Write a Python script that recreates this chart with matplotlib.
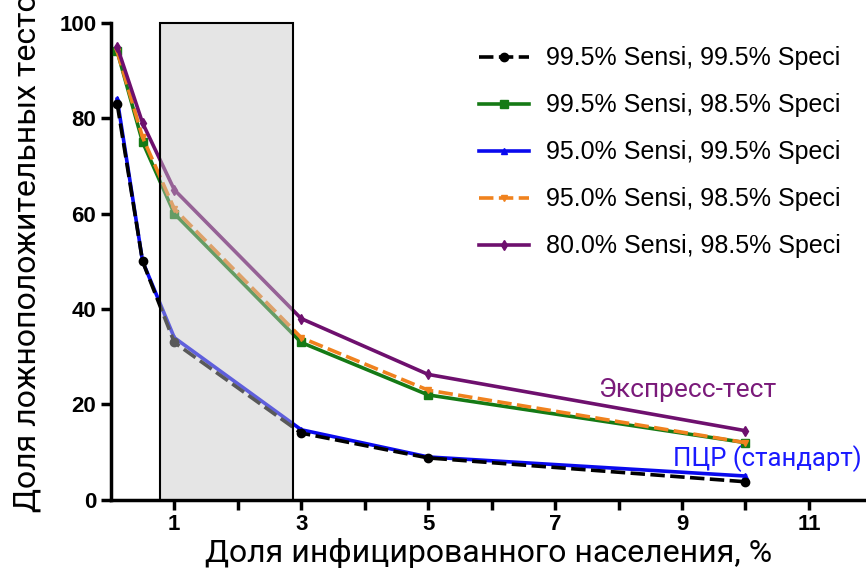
import matplotlib.pyplot as plt
from matplotlib.patches import Rectangle

# prevalence, %
x = [0.1, 0.5, 1, 3, 5, 10]

s995_p995 = [83, 50, 33, 14, 8.8, 3.8]
s995_p985 = [94, 75, 60, 33, 22, 12]
s950_p995 = [84, 50, 34, 14.7, 9, 5]
s950_p985 = [94, 76, 61, 34, 23, 12]
s800_p985 = [95, 79, 65, 38, 26.3, 14.5]

labels = ['99.5% Sensi, 99.5% Speci',
          '99.5% Sensi, 98.5% Speci',
          '95.0% Sensi, 99.5% Speci',
          '95.0% Sensi, 98.5% Speci',
          '80.0% Sensi, 98.5% Speci']

x_ticks = [1, 3, 5, 7, 9, 11]
y_ticks = [0, 20, 40, 60, 80, 100]

band = (0.78, 2.87)  # shaded range of x

fig = plt.figure(figsize=(8.66, 5.7), dpi=100)
ax = fig.add_axes([0.128, 0.123, 0.872, 0.837])

lw = 2.6
l_blue, = ax.plot(x, s950_p995, color='#0a0aee', lw=lw, marker='^', ms=5, zorder=3)
l_black, = ax.plot(x, s995_p995, color='black', lw=lw, ls=(0, (4, 1.5)), marker='o', ms=6, zorder=4)
l_green, = ax.plot(x, s995_p985, color='#157a15', lw=lw, marker='s', ms=6, zorder=3)
l_orange, = ax.plot(x, s950_p985, color='#f0821e', lw=lw, ls=(0, (4, 1.5)), marker='v', ms=5, zorder=4)
l_purple, = ax.plot(x, s800_p985, color='#6e106e', lw=lw, marker='d', ms=5, zorder=5)

ax.add_patch(Rectangle((band[0], 0), band[1] - band[0], 100,
                       facecolor=(0.78, 0.78, 0.78, 0.45), edgecolor='black',
                       lw=1.5, zorder=6, clip_on=False))

ax.set_xlim(0, 11.9)
ax.set_ylim(0, 100)
ax.set_xticks(x_ticks)
ax.set_xticks([2, 4, 6, 8, 10], minor=True)
ax.set_yticks(y_ticks)
for sp in ['top', 'right']:
    ax.spines[sp].set_visible(False)
for sp in ['left', 'bottom']:
    ax.spines[sp].set_linewidth(2.5)
ax.tick_params(which='both', width=2.5, length=7, direction='out')
for lab in ax.get_xticklabels() + ax.get_yticklabels():
    lab.set_fontweight('bold')
    lab.set_fontsize(16)
    lab.set_family('Liberation Sans')

ax.set_xlabel('Доля инфицированного населения, %', family='Roboto', fontsize=23, labelpad=2)
fig.text(0.031, (570 - 512) / 570, 'Доля ложноположительных тестов', family='Roboto',
         fontsize=23, rotation=90, ha='center', va='bottom')

ax.text(7.68, 21.6, 'Экспресс-тест', color='#7a1a7a', family='Roboto', fontsize=19,
        va='baseline')
ax.text(8.86, 7.1, 'ПЦР (стандарт)', color='#1a1aff', family='Roboto', fontsize=18.5,
        va='baseline')

ax.legend([l_black, l_green, l_blue, l_orange, l_purple], labels,
          loc='upper right', bbox_to_anchor=(0.997, 0.998), frameon=False,
          prop={'family': 'Liberation Sans', 'size': 18},
          handlelength=2.0, labelspacing=0.92, handletextpad=0.7)

fig.savefig('out.png', dpi=100)
